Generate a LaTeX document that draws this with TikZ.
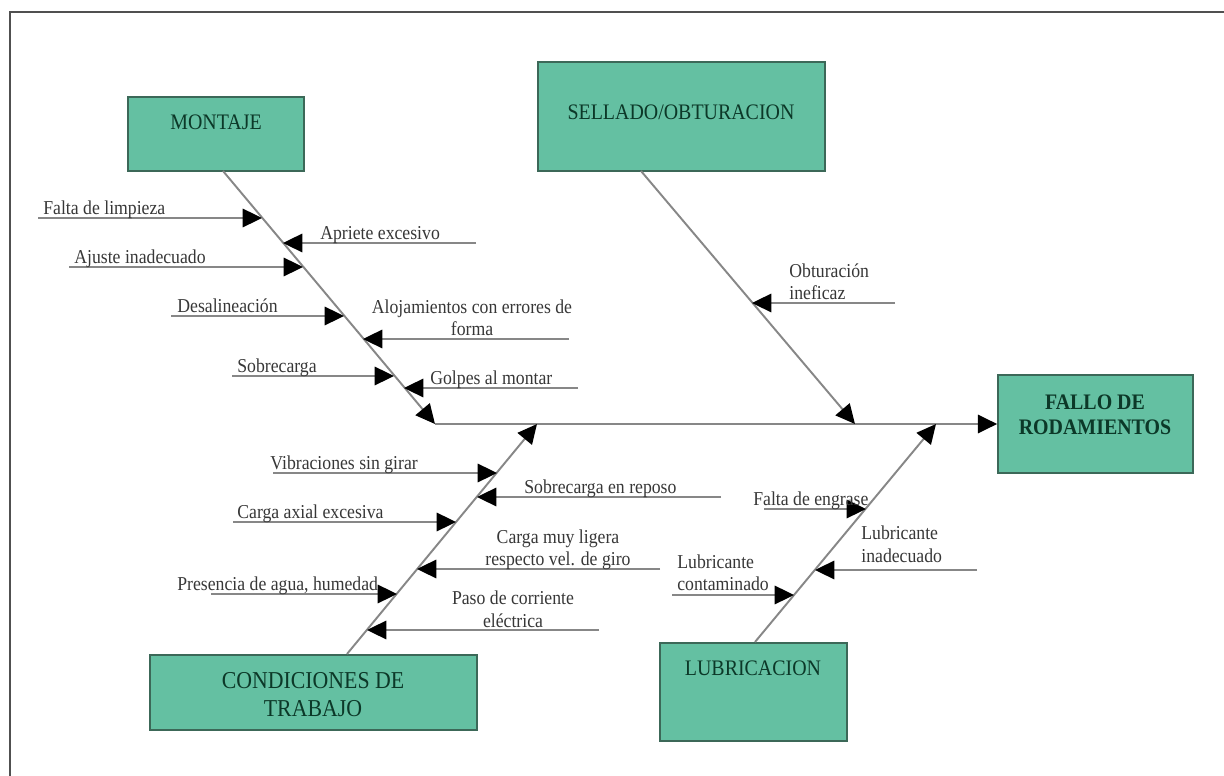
\documentclass[tikz,border=0pt]{standalone}
\usepackage{fontspec}
\setmainfont{Liberation Serif}[FakeStretch=0.9]
\usepackage{tikz}
\usetikzlibrary{arrows.meta}
\definecolor{fishgreen}{RGB}{100,192,162}
\definecolor{fishedge}{RGB}{60,104,88}
\definecolor{fishtext}{RGB}{12,56,40}
\definecolor{bonegray}{RGB}{135,135,135}
\definecolor{causegray}{RGB}{55,55,55}
\definecolor{framegray}{RGB}{80,80,80}
\tikzset{
  catbox/.style={draw=fishedge, fill=fishgreen, line width=1pt, inner sep=0pt},
  cattext/.style={text=fishtext, align=center, inner sep=0pt, font=\fontsize{12.6}{14.2}\selectfont},
  cause/.style={text=causegray, inner sep=0pt, font=\fontsize{11.2}{13}\selectfont},
  bone/.style={draw=bonegray, line width=1.1pt, -{Triangle[length=11pt,width=10.5pt,color=black,fill=black]}},
  frame/.style={draw=framegray, line width=1.2pt}
}

\begin{document}
\begin{tikzpicture}[x=0.02cm, y=-0.02cm]
\useasboundingbox (0,0) rectangle (1224,776);
\draw[frame] (1224,12) -- (10,12) -- (10,776);

\node[catbox, minimum width=3.52cm, minimum height=1.48cm] (montaje) at (216,134) {};
\node[catbox, minimum width=5.74cm, minimum height=2.18cm] (sellado) at (681.5,116.5) {};
\node[catbox, minimum width=3.9cm, minimum height=1.96cm] (fallo) at (1095.5,424) {};
\node[catbox, minimum width=6.54cm, minimum height=1.5cm] (condiciones) at (313.5,692.5) {};
\node[catbox, minimum width=3.74cm, minimum height=1.96cm] (lubricacion) at (753.5,692) {};

\node[cattext] (montajeT) at (216,122) {MONTAJE};
\node[cattext] (selladoT) at (681,112) {SELLADO/OBTURACION};
\node[cattext, font=\fontsize{12.6}{14.2}\selectfont\bfseries] (falloT) at (1095,414.5) {FALLO DE\\RODAMIENTOS};
\node[cattext, font=\fontsize{13.8}{16.4}\selectfont] (condicionesT) at (313,694.5) {CONDICIONES DE\\TRABAJO};
\node[cattext] (lubricacionT) at (753,668) {LUBRICACION};

\coordinate (mTop) at (223,171);
\coordinate (mTip) at (435,424);
\coordinate (sTop) at (641,171);
\coordinate (sTip) at (855,424);
\coordinate (cBot) at (347,654);
\coordinate (cTip) at (537,424);
\coordinate (lBot) at (755,642);
\coordinate (lTip) at (936,424);

\draw[bone] (mTip) -- (fallo.west);
\draw[bone] (mTop) -- (mTip);
\draw[bone] (sTop) -- (sTip);
\draw[bone] (cBot) -- (cTip);
\draw[bone] (lBot) -- (lTip);

\coordinate (limpiezaS) at (38,218);   \coordinate (limpiezaT) at (262,218);
\coordinate (aprieteS) at (476,243);   \coordinate (aprieteT) at (283,243);
\coordinate (ajusteS) at (69,267);     \coordinate (ajusteT) at (303,267);
\coordinate (desalinS) at (171,316);   \coordinate (desalinT) at (344,316);
\coordinate (alojamS) at (569,339);    \coordinate (alojamT) at (363,339);
\coordinate (sobreS) at (232,376);     \coordinate (sobreT) at (394,376);
\coordinate (golpesS) at (578,388);    \coordinate (golpesT) at (404,388);
\coordinate (obturS) at (895,303);     \coordinate (obturT) at (752,303);
\coordinate (vibraS) at (273,473);     \coordinate (vibraT) at (497,473);
\coordinate (reposoS) at (721,497);    \coordinate (reposoT) at (477,497);
\coordinate (axialS) at (233,522);     \coordinate (axialT) at (456,522);
\coordinate (ligeraS) at (660,569);    \coordinate (ligeraT) at (417,569);
\coordinate (aguaS) at (211,594);      \coordinate (aguaT) at (397,594);
\coordinate (corrienteS) at (599,630); \coordinate (corrienteT) at (367,630);
\coordinate (engraseS) at (764,509);   \coordinate (engraseT) at (866,509);
\coordinate (inadecS) at (977,570);    \coordinate (inadecT) at (815,570);
\coordinate (contamS) at (672,595);    \coordinate (contamT) at (794,595);

\draw[bone] (limpiezaS) -- (limpiezaT);
\draw[bone] (aprieteS) -- (aprieteT);
\draw[bone] (ajusteS) -- (ajusteT);
\draw[bone] (desalinS) -- (desalinT);
\draw[bone] (alojamS) -- (alojamT);
\draw[bone] (sobreS) -- (sobreT);
\draw[bone] (golpesS) -- (golpesT);
\draw[bone] (obturS) -- (obturT);
\draw[bone] (vibraS) -- (vibraT);
\draw[bone] (reposoS) -- (reposoT);
\draw[bone] (axialS) -- (axialT);
\draw[bone] (ligeraS) -- (ligeraT);
\draw[bone] (aguaS) -- (aguaT);
\draw[bone] (corrienteS) -- (corrienteT);
\draw[bone] (engraseS) -- (engraseT);
\draw[bone] (inadecS) -- (inadecT);
\draw[bone] (contamS) -- (contamT);

\node[cause, anchor=base west] (limpieza) at (43,215) {Falta de limpieza};
\node[cause, anchor=base west] (apriete) at (320,240) {Apriete excesivo};
\node[cause, anchor=base west] (ajuste) at (74,264) {Ajuste inadecuado};
\node[cause, anchor=base west] (desalin) at (177,313) {Desalineación};
\node[cause, anchor=base, align=center] (alojam) at (472,336) {Alojamientos con errores de\\forma};
\node[cause, anchor=base west] (sobre) at (237,373) {Sobrecarga};
\node[cause, anchor=base west] (golpes) at (430,385) {Golpes al montar};
\node[cause, anchor=base west, align=left] (obtur) at (789,300) {Obturación\\ineficaz};
\node[cause, anchor=base west] (vibra) at (270,470) {Vibraciones sin girar};
\node[cause, anchor=base west] (reposo) at (524,494) {Sobrecarga en reposo};
\node[cause, anchor=base west] (axial) at (237,519) {Carga axial excesiva};
\node[cause, anchor=base, align=center] (ligera) at (558,566) {Carga muy ligera\\respecto vel. de giro};
\node[cause, anchor=base west] (agua) at (177,591) {Presencia de agua, humedad};
\node[cause, anchor=base, align=center] (corriente) at (513,627) {Paso de corriente\\eléctrica};
\node[cause, anchor=base west] (engrase) at (753,506) {Falta de engrase};
\node[cause, anchor=base west, align=left] (inadec) at (861,562) {Lubricante\\inadecuado};
\node[cause, anchor=base west, align=left] (contam) at (677,591) {Lubricante\\contaminado};
\end{tikzpicture}
\end{document}
